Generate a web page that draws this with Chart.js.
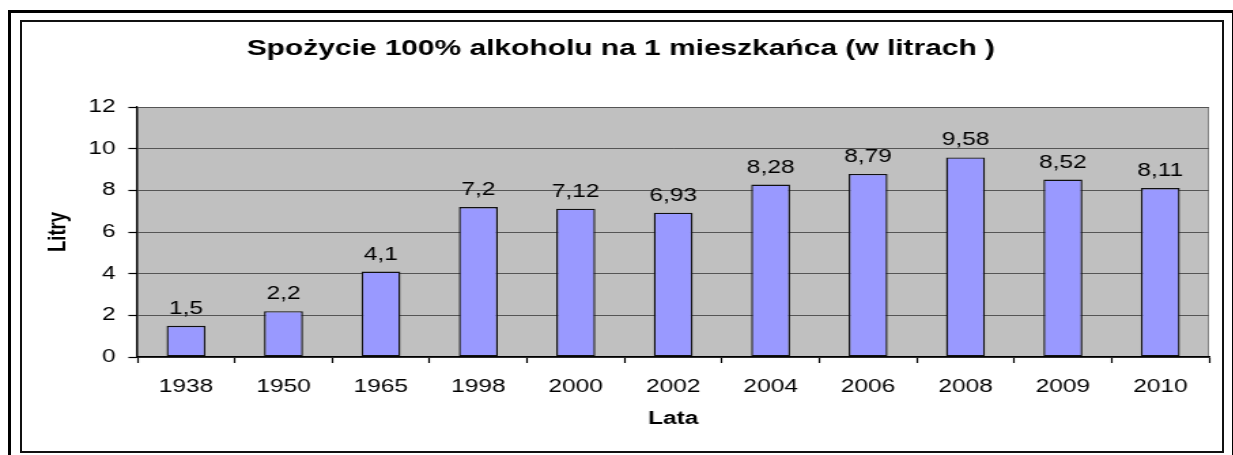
<!DOCTYPE html>
<html>
<head>
<meta charset="utf-8">
<script src="https://cdn.jsdelivr.net/npm/chart.js@4"></script>
<style>
  body { margin: 0; background: #fff; }
  #wrap { position: relative; width: 1233px; height: 455px; overflow: hidden; }
  #outer { position: absolute; left: 8px; top: 10px; width: 1221px; height: 460px; border: 3px solid #000; }
  #inner { position: absolute; left: 20px; top: 20px; width: 1200px; height: 429px; border: 2px solid #111; }
  /* the original picture is stretched sideways, so the chart is drawn narrow and widened */
  #stretch { position: absolute; left: 0; top: 0; width: 907px; height: 455px; transform: scaleX(1.36); transform-origin: 0 0; }
</style>
</head>
<body>
<div id="wrap">
  <div id="outer"></div>
  <div id="inner"></div>
  <div id="stretch"><canvas id="chart" width="907" height="455"></canvas></div>
</div>
<script>
const YEARS = ['1938', '1950', '1965', '1998', '2000', '2002', '2004', '2006', '2008', '2009', '2010'];
const LITRES = [1.5, 2.2, 4.1, 7.2, 7.12, 6.93, 8.28, 8.79, 9.58, 8.52, 8.11];
const Y_TICKS = [0, 2, 4, 6, 8, 10, 12];

const FONT = "Arial, 'Liberation Sans', sans-serif";

// gray plot area like the old Excel charts
const plotBg = {
  id: 'plotBg',
  beforeDraw(chart) {
    const { ctx, chartArea: a } = chart;
    ctx.save();
    ctx.fillStyle = '#c0c0c0';
    ctx.fillRect(a.left, a.top, a.right - a.left, a.bottom - a.top);
    ctx.strokeStyle = '#808080';
    ctx.lineWidth = 1;
    ctx.strokeRect(a.left + 0.5, a.top + 0.5, a.right - a.left - 1, a.bottom - a.top);
    ctx.restore();
  }
};

// value above every bar, with a decimal comma
const valueLabels = {
  id: 'valueLabels',
  afterDatasetsDraw(chart) {
    const { ctx } = chart;
    const meta = chart.getDatasetMeta(0);
    ctx.save();
    ctx.font = '18px ' + FONT;
    ctx.fillStyle = '#000';
    ctx.textAlign = 'center';
    ctx.textBaseline = 'alphabetic';
    meta.data.forEach((bar, i) => {
      ctx.fillText(String(LITRES[i]).replace('.', ','), bar.x, bar.y - 12);
    });
    ctx.restore();
  }
};

new Chart(document.getElementById('chart'), {
  type: 'bar',
  data: {
    labels: YEARS,
    datasets: [{
      data: LITRES,
      backgroundColor: '#9999ff',
      borderColor: '#111',
      borderWidth: 1.4,
      borderSkipped: false,
      categoryPercentage: 1,
      barPercentage: 0.4
    }]
  },
  options: {
    responsive: false,
    animation: false,
    devicePixelRatio: 1,
    layout: { padding: { left: 24, right: 18, top: 0, bottom: 0 } },
    plugins: {
      legend: { display: false },
      tooltip: { enabled: false },
      title: {
        display: true,
        text: 'Spożycie 100% alkoholu na 1 mieszkańca (w litrach )',
        color: '#000',
        font: { family: FONT, size: 22, weight: 'bold' },
        padding: { top: 36, bottom: 44.6 }
      }
    },
    scales: {
      x: {
        afterFit: s => { s.height = 98; },
        grid: { offset: true, drawOnChartArea: false, tickLength: 6, tickColor: '#000', tickWidth: 1.2 },
        border: { color: '#000', width: 1.5 },
        ticks: { color: '#000', padding: 13, font: { family: FONT, size: 18 } },
        title: {
          display: true,
          text: 'Lata',
          color: '#000',
          font: { family: FONT, size: 18, weight: 'bold' },
          padding: { top: 0, bottom: 25 }
        }
      },
      y: {
        min: 0,
        max: 12,
        afterFit: s => { s.width = 77; },
        afterBuildTicks: s => { s.ticks = Y_TICKS.map(v => ({ value: v })); },
        grid: { color: '#555', lineWidth: 1, tickLength: 6.6, tickColor: '#000', tickWidth: 1.2 },
        border: { color: '#000', width: 1.2 },
        ticks: { color: '#000', padding: 9.5, font: { family: FONT, size: 18 } },
        title: {
          display: true,
          text: 'Litry',
          color: '#000',
          font: { family: FONT, size: 18.5, weight: 'bold' },
          padding: { top: 7.4, bottom: 0 }
        }
      }
    }
  },
  plugins: [plotBg, valueLabels]
});
</script>
</body>
</html>
